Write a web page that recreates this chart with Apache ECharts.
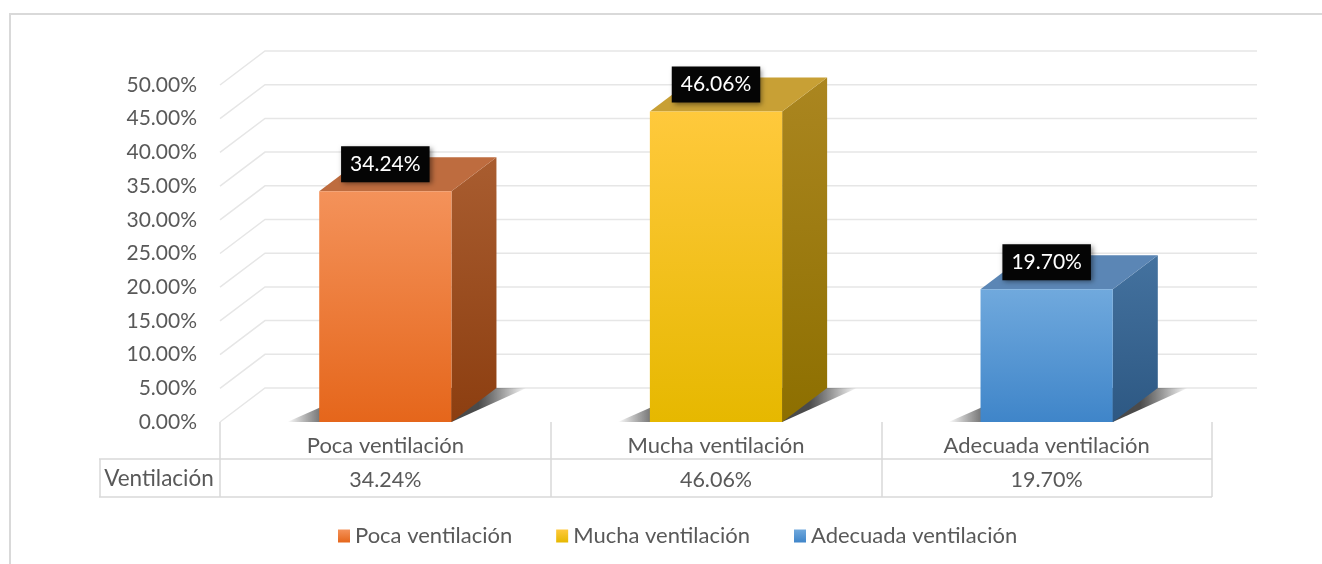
<!DOCTYPE html>
<html>
<head>
<meta charset="utf-8">
<script src="https://cdn.jsdelivr.net/npm/echarts@6/dist/echarts.min.js"></script>
<style>
  html, body { margin: 0; padding: 0; background: #fff; }
  #chart { width: 1322px; height: 564px; }
</style>
</head>
<body>
<div id="chart"></div>
<script>
const categories = ['Poca ventilación', 'Mucha ventilación', 'Adecuada ventilación']
const values = [34.24, 46.06, 19.70]
const rowName = 'Ventilación'
const yTicks = [0, 5, 10, 15, 20, 25, 30, 35, 40, 45, 50]

// 3d depth offset of the wall / bars, in pixels
const DX = 45
const DY = -34
const FONT = 'Lato, "Noto Sans", sans-serif'
const TXT = '#595959'

const palette = [
  { front: ['#f4925a', '#e5661b'], side: ['#a95d30', '#8c3e10'], top: '#be6c3f' },
  { front: ['#ffc93c', '#e6b800'], side: ['#ab8620', '#8d6f00'], top: '#c8a035' },
  { front: ['#70a9dd', '#3f85c9'], side: ['#44729f', '#2d5883'], top: '#5b86b5' }
]

const grad = (a, b) => new echarts.graphic.LinearGradient(0, 0, 0, 1, [
  { offset: 0, color: a }, { offset: 1, color: b }
])

const fmt = v => v.toFixed(2) + '%'

function renderGrid(params, api) {
  const cs = params.coordSys
  const y = api.coord([0, api.value(1)])[1]
  const xl = cs.x
  const xr = cs.x + cs.width
  return {
    type: 'polyline',
    shape: { points: [[xl, y], [xl + DX, y + DY], [xr + DX, y + DY]] },
    style: { stroke: '#e6e6e6', lineWidth: 1.5, fill: null },
    silent: true
  }
}

function renderBar(params, api) {
  const i = api.value(0)
  const v = api.value(1)
  const base = api.coord([i, 0])
  const top = api.coord([i, v])
  const bw = api.size([1, 0])[0] * 0.4
  const x0 = base[0] - bw / 2
  const x1 = base[0] + bw / 2
  const yb = base[1]
  const yt = top[1]
  const c = palette[i]
  return {
    type: 'group',
    children: [
      {
        // soft floor shadow
        type: 'polygon',
        shape: { points: [[x0 - 32, yb], [x1, yb], [x1 + DX + 30, yb + DY], [x0 + DX, yb + DY]] },
        style: {
          fill: new echarts.graphic.LinearGradient(0, 0, 1, 0, [
            { offset: 0, color: 'rgba(0,0,0,0)' },
            { offset: 0.2, color: 'rgba(30,30,30,0.85)' },
            { offset: 0.8, color: 'rgba(30,30,30,0.8)' },
            { offset: 1, color: 'rgba(0,0,0,0)' }
          ])
        }
      },
      {
        type: 'polygon',
        shape: { points: [[x1, yb], [x1 + DX, yb + DY], [x1 + DX, yt + DY], [x1, yt]] },
        style: { fill: grad(c.side[0], c.side[1]) }
      },
      {
        type: 'polygon',
        shape: { points: [[x0, yt], [x1, yt], [x1 + DX, yt + DY], [x0 + DX, yt + DY]] },
        style: { fill: c.top }
      },
      {
        type: 'rect',
        shape: { x: x0, y: yt, width: bw, height: yb - yt },
        style: { fill: grad(c.front[0], c.front[1]) }
      },
      {
        type: 'text',
        x: base[0],
        y: yt - 27,
        style: {
          text: fmt(v),
          fill: '#fff',
          font: '21px ' + FONT,
          align: 'center',
          verticalAlign: 'middle',
          backgroundColor: '#050505',
          padding: [8, 9, 7, 9],
          shadowBlur: 5,
          shadowColor: 'rgba(0,0,0,0.45)',
          shadowOffsetX: 2,
          shadowOffsetY: 2
        }
      }
    ]
  }
}

const chart = echarts.init(document.getElementById('chart'))

const barSeries = categories.map((name, i) => ({
  name: name,
  type: 'custom',
  renderItem: renderBar,
  data: [[i, values[i]]],
  itemStyle: { color: grad(palette[i].front[0], palette[i].front[1]) },
  z: 3
}))

const option = {
  animation: false,
  grid: { left: 220, right: 110, top: 85, bottom: 142 },
  legend: {
    left: 333,
    bottom: 12,
    icon: 'rect',
    itemWidth: 12,
    itemHeight: 13,
    itemGap: 44,
    textStyle: { fontFamily: FONT, fontSize: 22, color: TXT },
    data: categories
  },
  xAxis: [
    {
      type: 'category',
      data: categories,
      axisLine: { show: false },
      axisTick: { show: true, interval: 0, length: 75, lineStyle: { color: '#d9d9d9', width: 1.5 } },
      axisLabel: { fontFamily: FONT, fontSize: 22, color: TXT, margin: 13, interval: 0 }
    },
    {
      type: 'category',
      position: 'bottom',
      offset: 37,
      data: values.map(fmt),
      axisLine: { show: false },
      axisTick: { show: false },
      axisLabel: { fontFamily: FONT, fontSize: 21.5, color: TXT, margin: 10, interval: 0 }
    }
  ],
  yAxis: {
    type: 'value',
    min: 0,
    max: 50,
    interval: 5,
    axisLine: { show: false },
    axisTick: { show: false },
    splitLine: { show: false },
    axisLabel: { fontFamily: FONT, fontSize: 21, color: TXT, margin: 23, formatter: v => fmt(v) }
  },
  graphic: [
    { type: 'rect', shape: { x: 10, y: 14, width: 1400, height: 600 }, style: { fill: null, stroke: '#d9d9d9', lineWidth: 2 }, silent: true },
    { type: 'line', shape: { x1: 99, y1: 459, x2: 1212, y2: 459 }, style: { stroke: '#d9d9d9', lineWidth: 1.5 } },
    { type: 'line', shape: { x1: 99, y1: 497, x2: 1212, y2: 497 }, style: { stroke: '#d9d9d9', lineWidth: 1.5 } },
    { type: 'line', shape: { x1: 100, y1: 459, x2: 100, y2: 497 }, style: { stroke: '#d9d9d9', lineWidth: 1.5 } },
    { type: 'text', x: 159, y: 479, style: { text: rowName, font: '22.5px ' + FONT, fill: TXT, align: 'center', verticalAlign: 'middle' } }
  ],
  series: [
    {
      type: 'custom',
      renderItem: renderGrid,
      data: yTicks.map(t => [0, t]),
      silent: true,
      z: 1
    }
  ].concat(barSeries)
}

chart.setOption(option)
</script>
</body>
</html>
